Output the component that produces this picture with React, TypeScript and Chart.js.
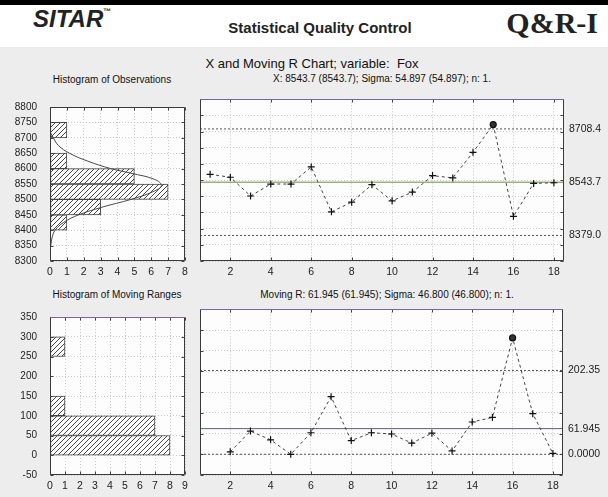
import React, { useEffect, useRef } from 'react';
import { Chart, registerables } from 'chart.js';

Chart.register(...registerables);

const FONT = "'Liberation Sans', Arial, Helvetica, sans-serif";

// ---- Observations (X chart) ----
const xSamples = [1, 2, 3, 4, 5, 6, 7, 8, 9, 10, 11, 12, 13, 14, 15, 16, 17, 18];
const xValues = [8568, 8559, 8501, 8538, 8538, 8591, 8452, 8482, 8536, 8486, 8513, 8564, 8557, 8636, 8722, 8438, 8540, 8542];
const xLimits = [8379.0, 8543.7, 8708.4]; // LCL, CL, UCL
const xLimitLabels = ['8379.0', '8543.7', '8708.4'];
const xTicks = [2, 4, 6, 8, 10, 12, 14, 16, 18];

// ---- Moving ranges (MR chart) ----
const mrSamples = [2, 3, 4, 5, 6, 7, 8, 9, 10, 11, 12, 13, 14, 15, 16, 17, 18];
const mrValues = [6, 56, 35, 0, 52, 139, 33, 52, 49, 27, 51, 8, 78, 89, 281, 98, 2];
const mrLimits = [0, 61.945, 202.35]; // LCL, CL, UCL
const mrLimitLabels = ['0.0000', '61.945', '202.35'];

// ---- Histogram of observations ----
const obsBinMids = [8325, 8375, 8425, 8475, 8525, 8575, 8625, 8675, 8725, 8775];
const obsBinCounts = [0, 0, 1, 3, 7, 5, 1, 0, 1, 0];
const curveValues = [8335, 8350, 8375, 8400, 8425, 8450, 8475, 8500, 8525, 8545, 8565, 8585, 8600, 8625, 8650, 8675, 8700, 8715];
const curveCounts = [0.0, 0.05, 0.12, 0.3, 0.8, 1.7, 3.1, 4.8, 6.1, 6.6, 6.2, 4.8, 3.6, 2.2, 1.15, 0.5, 0.2, 0.04];

// ---- Histogram of moving ranges ----
const mrBinMids = [-25, 25, 75, 125, 175, 225, 275, 325];
const mrBinCounts = [0, 8, 7, 1, 0, 0, 1, 0];

const X_MIN = 0.5;
const X_MAX = 18.5;

function makeHatch(): any {
  const c = document.createElement('canvas');
  c.width = 5;
  c.height = 5;
  const g = c.getContext('2d')!;
  g.fillStyle = '#ffffff';
  g.fillRect(0, 0, 5, 5);
  g.strokeStyle = '#333333';
  g.lineWidth = 0.9;
  g.beginPath();
  g.moveTo(0, 5);
  g.lineTo(5, 0);
  g.moveTo(-1, 1);
  g.lineTo(1, -1);
  g.moveTo(4, 6);
  g.lineTo(6, 4);
  g.stroke();
  return g.createPattern(c, 'repeat');
}

const framePlugin = {
  id: 'frame',
  beforeDraw(chart: any) {
    const { ctx, chartArea: a } = chart;
    ctx.save();
    ctx.fillStyle = '#fdfdfd';
    ctx.fillRect(a.left, a.top, a.right - a.left, a.bottom - a.top);
    ctx.restore();
  },
  afterDraw(chart: any, _args: any, opts: any) {
    const { ctx, chartArea: a } = chart;
    const xs = chart.scales.x;
    const ys = chart.scales.y;
    const L = Math.round(a.left) + 0.5;
    const R = Math.round(a.right) - 0.5;
    const T = Math.round(a.top) + 0.5;
    const B = Math.round(a.bottom) - 0.5;
    ctx.save();
    ctx.lineWidth = 1;
    ctx.strokeStyle = '#444';
    ctx.beginPath();
    xs.ticks.forEach((t: any) => {
      const p = Math.round(xs.getPixelForValue(t.value)) + 0.5;
      ctx.moveTo(p, T);
      ctx.lineTo(p, T + 3);
      ctx.moveTo(p, B);
      ctx.lineTo(p, B - 3);
    });
    ys.ticks.forEach((t: any) => {
      const p = Math.round(ys.getPixelForValue(t.value)) + 0.5;
      ctx.moveTo(L, p);
      ctx.lineTo(L + 3, p);
      ctx.moveTo(R, p);
      ctx.lineTo(R - 3, p);
    });
    ctx.stroke();
    ctx.strokeStyle = '#3a3a3a';
    ctx.beginPath();
    ctx.moveTo(L, T);
    ctx.lineTo(L, B);
    ctx.lineTo(R, B);
    ctx.lineTo(R, T);
    ctx.stroke();
    ctx.strokeStyle = (opts && opts.topColor) || '#3a3a3a';
    ctx.beginPath();
    ctx.moveTo(L, T);
    ctx.lineTo(R, T);
    ctx.stroke();
    ctx.restore();
  },
};

const gridColor = '#c8c8c8';
const gridDash = [1, 2];
const plain = (v: any) => String(v);

function histConfig(
  mids: number[],
  counts: number[],
  yMin: number,
  yMax: number,
  xMax: number,
  hatch: any,
  padTop: number,
  topColor: string,
  curve?: { v: number[]; c: number[] }
): any {
  const datasets: any[] = [];
  if (curve) {
    datasets.push({
      type: 'line',
      indexAxis: 'y',
      data: curve.v.map((v, i) => ({ x: curve.c[i], y: v })),
      borderColor: '#4a4a4a',
      borderWidth: 1,
      pointRadius: 0,
      tension: 0.4,
      fill: false,
      order: 0,
    });
  }
  datasets.push({
    type: 'bar',
    indexAxis: 'y',
    data: mids.map((m, i) => ({ x: counts[i], y: m })),
    backgroundColor: hatch,
    borderColor: '#444',
    borderWidth: (c: any) => (c.raw && c.raw.x > 0 ? 1 : 0),
    borderSkipped: false,
    barPercentage: 1,
    categoryPercentage: 1,
    order: 1,
  });
  return {
    type: 'bar',
    data: { datasets },
    plugins: [framePlugin],
    options: {
      indexAxis: 'y',
      animation: false,
      responsive: false,
      events: [],
      layout: { padding: { top: padTop, right: 10, left: 0, bottom: 0 } },
      plugins: { legend: { display: false }, tooltip: { enabled: false }, frame: { topColor } },
      scales: {
        x: {
          type: 'linear',
          min: 0,
          max: xMax,
          ticks: { stepSize: 1, padding: 5, color: '#222', font: { size: 10.5, family: FONT }, callback: plain },
          grid: { color: gridColor, drawTicks: false },
          border: { display: false, dash: gridDash },
          afterFit: (s: any) => {
            s.height = 22;
          },
        },
        y: {
          type: 'linear',
          min: yMin,
          max: yMax,
          offset: false,
          ticks: { stepSize: 50, padding: 13, color: '#222', font: { size: 10, family: FONT }, callback: plain },
          grid: { color: gridColor, drawTicks: false, offset: false },
          border: { display: false, dash: gridDash },
          afterFit: (s: any) => {
            s.width = 50;
          },
        },
      },
    },
  };
}

function controlConfig(
  samples: number[],
  values: number[],
  limits: number[],
  limitLabels: string[],
  yMin: number,
  yMax: number,
  clColor: string,
  padTop: number,
  rightWidth: number
): any {
  const [lcl, cl, ucl] = limits;
  const out = values.map((v) => v > ucl || v < lcl);
  return {
    type: 'line',
    data: {
      datasets: [
        {
          data: samples.map((s, i) => ({ x: s, y: values[i] })),
          borderColor: '#444',
          borderWidth: 1,
          borderDash: [3, 3],
          pointStyle: out.map((o) => (o ? 'circle' : 'cross')),
          pointRadius: out.map((o) => (o ? 3 : 3.5)),
          pointBorderColor: '#111',
          pointBackgroundColor: '#333',
          pointBorderWidth: 1.2,
          tension: 0,
          fill: false,
        },
        {
          data: [{ x: X_MIN, y: ucl }, { x: X_MAX, y: ucl }],
          borderColor: '#555',
          borderWidth: 1,
          borderDash: [2, 2],
          pointRadius: 0,
        },
        {
          data: [{ x: X_MIN, y: cl }, { x: X_MAX, y: cl }],
          borderColor: clColor,
          borderWidth: 1,
          pointRadius: 0,
        },
        {
          data: [{ x: X_MIN, y: lcl }, { x: X_MAX, y: lcl }],
          borderColor: '#555',
          borderWidth: 1,
          borderDash: [2, 2],
          pointRadius: 0,
        },
      ],
    },
    plugins: [framePlugin],
    options: {
      animation: false,
      responsive: false,
      events: [],
      layout: { padding: { top: padTop, right: 0, left: 0, bottom: 0 } },
      plugins: { legend: { display: false }, tooltip: { enabled: false }, frame: { topColor: '#7a62a8' } },
      scales: {
        x: {
          type: 'linear',
          min: X_MIN,
          max: X_MAX,
          afterBuildTicks: (s: any) => {
            s.ticks = xTicks.map((v) => ({ value: v }));
          },
          ticks: { padding: 5, autoSkip: false, maxRotation: 0, color: '#222', font: { size: 10.5, family: FONT }, callback: plain },
          grid: { color: gridColor, drawTicks: false },
          border: { display: false, dash: gridDash },
          afterFit: (s: any) => {
            s.height = 22;
          },
        },
        y: {
          type: 'linear',
          min: yMin,
          max: yMax,
          ticks: { stepSize: 50, display: false },
          grid: { color: gridColor, drawTicks: false },
          border: { display: false, dash: gridDash },
          afterFit: (s: any) => {
            s.width = 10;
          },
        },
        y2: {
          type: 'linear',
          position: 'right',
          min: yMin,
          max: yMax,
          afterBuildTicks: (s: any) => {
            s.ticks = limits.map((v) => ({ value: v }));
          },
          ticks: {
            padding: 5,
            color: '#222',
            font: { size: 10.5, family: FONT },
            callback: (v: any) => {
              const i = limits.indexOf(Number(v));
              return i >= 0 ? limitLabels[i] : '';
            },
          },
          grid: { display: false, drawTicks: false },
          border: { display: false },
          afterFit: (s: any) => {
            s.width = rightWidth;
          },
        },
      },
    },
  };
}

const abs = (left: number, top: number, extra: any = {}): any => ({
  position: 'absolute',
  left,
  top,
  whiteSpace: 'nowrap',
  margin: 0,
  ...extra,
});

export default function App() {
  const r1 = useRef<HTMLCanvasElement>(null);
  const r2 = useRef<HTMLCanvasElement>(null);
  const r3 = useRef<HTMLCanvasElement>(null);
  const r4 = useRef<HTMLCanvasElement>(null);

  useEffect(() => {
    document.body.style.margin = '0';
    const hatch = makeHatch();
    const charts: Chart[] = [];
    charts.push(
      new Chart(
        r1.current!,
        histConfig(obsBinMids, obsBinCounts, 8300, 8800, 8, hatch, 10, '#3a3a3a', { v: curveValues, c: curveCounts })
      )
    );
    charts.push(new Chart(r2.current!, histConfig(mrBinMids, mrBinCounts, -50, 350, 9, hatch, 11, '#7a62a8')));
    charts.push(
      new Chart(r3.current!, controlConfig(xSamples, xValues, xLimits, xLimitLabels, 8300, 8800, '#6b8f3a', 9, 44))
    );
    charts.push(
      new Chart(r4.current!, controlConfig(mrSamples, mrValues, mrLimits, mrLimitLabels, -50, 350, '#55607a', 11, 45))
    );
    return () => charts.forEach((c) => c.destroy());
  }, []);

  const canvasStyle = (left: number, top: number, w: number, h: number): any => ({
    position: 'absolute',
    left,
    top,
    width: w,
    height: h,
  });

  return (
    <div
      style={{
        position: 'fixed',
        left: 0,
        top: 0,
        width: 608,
        height: 497,
        background: '#ffffff',
        overflow: 'hidden',
        fontFamily: FONT,
        color: '#111',
      }}
    >
      <div style={abs(0, 0, { width: 608, height: 5, background: '#000' })} />
      <div style={abs(0, 47, { width: 608, height: 450, background: '#ededed' })} />

      <div style={abs(33, 7, { fontSize: 24, lineHeight: '24px', fontWeight: 'bold', fontStyle: 'italic', color: '#222' })}>
        SITAR
        <span style={{ fontSize: 8, verticalAlign: 'top', lineHeight: '10px', fontStyle: 'normal' }}>™</span>
      </div>
      <div style={abs(120, 20, { width: 400, textAlign: 'center', fontSize: 15, lineHeight: '15px', fontWeight: 'bold', color: '#222' })}>
        Statistical Quality Control
      </div>
      <div
        style={abs(408, 8, {
          width: 190,
          textAlign: 'right',
          fontSize: 30,
          lineHeight: '30px',
          fontWeight: 'bold',
          fontFamily: "'Liberation Serif', 'Times New Roman', serif",
          color: '#222',
        })}
      >
        Q&amp;R-I
      </div>

      <div style={abs(112, 57, { width: 400, textAlign: 'center', fontSize: 13, lineHeight: '13px' })}>
        X and Moving R Chart; variable:&nbsp; Fox
      </div>
      <div style={abs(-3, 75, { width: 230, textAlign: 'center', fontSize: 10, lineHeight: '10px' })}>
        Histogram of Observations
      </div>
      <div style={abs(182, 74, { width: 400, textAlign: 'center', fontSize: 10, lineHeight: '10px' })}>
        X: 8543.7 (8543.7); Sigma: 54.897 (54.897); n: 1.
      </div>
      <div style={abs(2, 290, { width: 230, textAlign: 'center', fontSize: 10, lineHeight: '10px' })}>
        Histogram of Moving Ranges
      </div>
      <div style={abs(187, 290, { width: 400, textAlign: 'center', fontSize: 10, lineHeight: '10px' })}>
        Moving R: 61.945 (61.945); Sigma: 46.800 (46.800); n: 1.
      </div>

      <canvas ref={r1} width={195} height={195} style={canvasStyle(0, 88, 195, 195)} />
      <canvas ref={r2} width={195} height={199} style={canvasStyle(0, 298, 195, 199)} />
      <canvas ref={r3} width={418} height={195} style={canvasStyle(190, 88, 418, 195)} />
      <canvas ref={r4} width={418} height={199} style={canvasStyle(190, 298, 418, 199)} />
    </div>
  );
}
